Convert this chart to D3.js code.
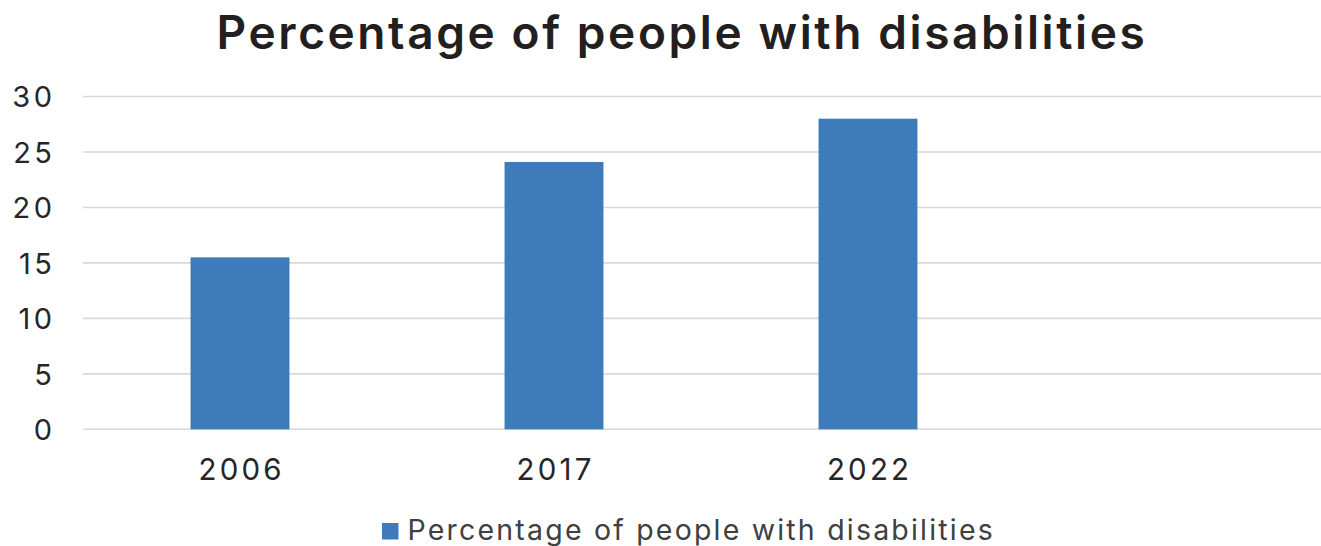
<!DOCTYPE html>
<html>
<head>
<meta charset="utf-8">
<script src="https://cdn.jsdelivr.net/npm/d3@7"></script>
<style>
  body { margin: 0; background: #fff; overflow: hidden; }
  text { font-family: Inter, "Open Sans", sans-serif; }
</style>
</head>
<body>
<div id="chart"></div>
<script>
// chart data
var categories = ["2006", "2017", "2022", ""];
var seriesName = "Percentage of people with disabilities";
var values = [15.5, 24.1, 28, null];
var yTicks = [0, 5, 10, 15, 20, 25, 30];
var title = "Percentage of people with disabilities";

var svgWidth = 1321;
var svgHeight = 546;

var margin = { top: 96.5, left: 83, bottom: 546 - 429.3 };
var plotRight = 83 + 4 * 314; // last (empty) slot runs past the window edge

var svg = d3.select("#chart")
  .append("svg")
  .attr("width", svgWidth)
  .attr("height", svgHeight);

var xScale = d3.scaleBand()
  .domain(d3.range(categories.length))
  .range([margin.left, plotRight])
  .paddingInner(0.685)
  .paddingOuter(0.3425);

var yScale = d3.scaleLinear()
  .domain([0, 30])
  .range([svgHeight - margin.bottom, margin.top]);

// gridlines
svg.append("g")
  .selectAll("line")
  .data(yTicks)
  .enter()
  .append("line")
  .attr("x1", margin.left)
  .attr("x2", plotRight)
  .attr("y1", d => yScale(d))
  .attr("y2", d => yScale(d))
  .attr("stroke", "#d9d9d9")
  .attr("stroke-width", 1.6);

// y axis labels (spacing is trailing too, so shift right by it)
var ySpacing = 3.5;
var leftAxis = d3.axisLeft(yScale).tickValues(yTicks).tickSize(0).tickPadding(0);
var yAxis = svg.append("g")
  .attr("transform", `translate(${52 + ySpacing},0)`)
  .call(leftAxis);
yAxis.select(".domain").remove();
yAxis.selectAll("text")
  .attr("font-size", "29px")
  .attr("fill", "#262626")
  .attr("font-family", "Inter")
  .attr("letter-spacing", ySpacing + "px")
  .attr("dy", "0.36em");

// bars
svg.append("g")
  .selectAll("rect")
  .data(values)
  .enter()
  .filter(d => d !== null)
  .append("rect")
  .attr("x", (d, i) => xScale(i))
  .attr("width", xScale.bandwidth())
  .attr("y", d => yScale(d))
  .attr("height", d => yScale(0) - yScale(d))
  .attr("fill", "#3e7bba");

// x axis labels
var xSpacing = 3.2;
var bottomAxis = d3.axisBottom(xScale).tickFormat(i => categories[i]).tickSize(0).tickPadding(0);
var xAxis = svg.append("g")
  .attr("transform", `translate(0, ${yScale(0)})`)
  .call(bottomAxis);
xAxis.select(".domain").remove();
xAxis.selectAll("text")
  .attr("font-size", "29.5px")
  .attr("fill", "#262626")
  .attr("font-family", "Inter")
  .attr("letter-spacing", xSpacing + "px")
  .attr("dx", xSpacing / 2)
  .attr("dy", 0)
  .attr("y", 51);

// title
svg.append("text")
  .attr("x", 682)
  .attr("y", 49)
  .attr("text-anchor", "middle")
  .attr("font-size", "46px")
  .attr("font-weight", 600)
  .attr("letter-spacing", "2.6px")
  .attr("fill", "#231f20")
  .text(title);

// legend
var legend = svg.append("g").attr("transform", "translate(382, 523)");
legend.append("rect")
  .attr("width", 16.5)
  .attr("height", 16.5)
  .attr("fill", "#3e7bba");
legend.append("text")
  .attr("x", 25.5)
  .attr("y", 17)
  .attr("font-size", "28.5px")
  .attr("letter-spacing", "2.2px")
  .attr("fill", "#404040")
  .text(seriesName);
</script>
</body>
</html>
